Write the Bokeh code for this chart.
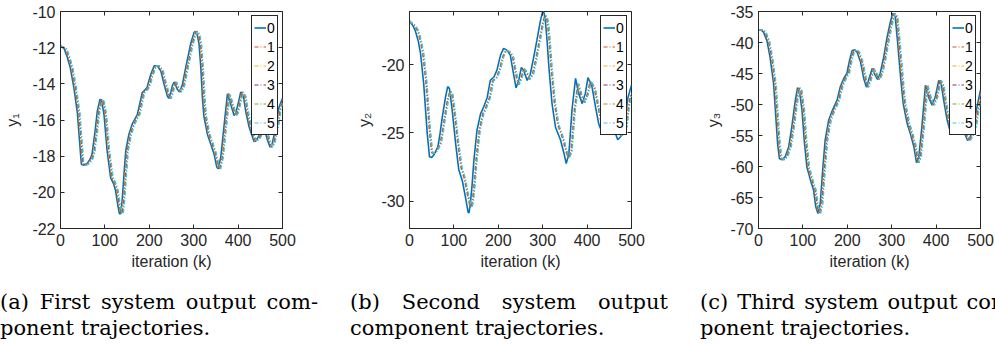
from bokeh.plotting import figure
from bokeh.models import Range1d, LinearAxis, FixedTicker, Legend, LegendItem, Div
from bokeh.layouts import row, column
from bokeh.embed import file_html
from bokeh.resources import INLINE

# ---------------- data ----------------
AGENTS = ["0", "1", "2", "3", "4", "5"]
COLORS = ["#0072BD", "#D95319", "#EDB120", "#7E2F8E", "#77AC30", "#4DBEEE"]

# delay (iterations) of agents 1..5 behind the plotted trajectory they follow
LAG_A = [2, 3, 4, 5, 6]
LAG_B = [-1.5, -0.75, 0, 0.75, 1.5]
LAG_C = [2, 3, 4, 5, 6]

X_TICKS = [0, 100, 200, 300, 400, 500]
Y1_TICKS = [-22, -20, -18, -16, -14, -12, -10]
Y2_TICKS = [-30, -25, -20]
Y3_TICKS = [-70, -65, -60, -55, -50, -45, -40, -35]
Y1_RANGE = (-22, -10)
Y2_RANGE = (-32, -16.1)
Y3_RANGE = (-70, -35)

# y1: reference (agent 0)
K1 = [0, 8, 15, 22, 30, 38, 43, 47, 52, 60, 66, 71, 77, 83, 89, 93, 98, 105, 113, 120,
      124, 129, 133, 136, 139, 143, 147, 154, 162, 173, 184, 195, 203, 211, 218, 226, 233,
      241, 244, 248, 252, 256, 263, 268, 274, 282, 293, 301, 305, 309, 312, 316, 320, 323,
      331, 338, 346, 352, 355, 361, 368, 376, 383, 391, 395, 402, 406, 412, 417, 425, 436,
      444, 451, 459, 466, 472, 477, 485, 492, 500]
Y1 = [-11.9, -12.05, -12.5, -13.1, -14.2, -15.6, -17.2, -18.45, -18.5, -18.4, -18.2, -17.9,
      -16.8, -15.5, -14.85, -15.0, -15.7, -17.7, -19.2, -19.55, -19.9, -20.7, -21.2, -21.1,
      -20.4, -19.0, -17.7, -16.8, -16.2, -15.7, -14.5, -14.2, -13.5, -13.0, -13.0, -13.3,
      -14.0, -14.7, -14.8, -14.5, -14.1, -13.9, -14.3, -14.45, -14.1, -13.1, -11.8, -11.15,
      -11.1, -11.4, -11.8, -13.1, -14.9, -15.8, -16.8, -17.3, -17.9, -18.6, -18.7, -18.05,
      -16.4, -14.55, -15.1, -15.75, -15.6, -14.9, -14.45, -14.7, -15.5, -16.4, -17.2, -17.0,
      -16.7, -16.5, -17.1, -17.5, -17.3, -16.4, -15.3, -14.8]

# y2: reference (agent 0)
K2 = [0, 7, 13, 20, 25, 32, 40, 45, 50, 55, 64, 69, 74, 81, 86, 90, 96, 104, 111, 119, 126,
      132, 134, 137, 141, 145, 152, 160, 167, 175, 182, 190, 197, 205, 212, 220, 227, 235,
      240, 246, 252, 257, 265, 272, 280, 287, 295, 300, 303, 306, 310, 314, 321, 329, 340,
      348, 353, 359, 366, 374, 381, 389, 396, 402, 411, 419, 426, 434, 445, 460, 469, 475,
      483, 492, 500]
Y2 = [-16.8, -17.1, -17.5, -18.3, -19.2, -21.4, -25.05, -26.75, -26.8, -26.6, -26.0, -25.0,
      -23.8, -22.4, -21.6, -21.75, -23.3, -25.8, -27.7, -28.5, -29.7, -30.8, -30.85, -30.2,
      -28.8, -27.0, -24.8, -23.6, -23.1, -22.4, -21.15, -20.9, -20.4, -19.3, -18.8, -18.95,
      -19.3, -20.8, -21.7, -21.15, -20.2, -20.4, -21.15, -20.7, -19.4, -18.2, -16.75, -16.1,
      -16.2, -16.75, -18.3, -20.2, -22.85, -24.6, -25.5, -26.5, -27.25, -26.5, -23.3, -21.0,
      -22.1, -22.85, -22.1, -20.95, -21.6, -23.1, -24.3, -25.0, -25.0, -24.7, -25.5, -25.3,
      -24.6, -22.4, -21.5]

# y2: followers' common trajectory (agents 1..5)
K2F = [0, 13, 19, 26, 31, 38, 46, 51, 56, 61, 70, 75, 80, 87, 92, 96, 102, 110, 117, 125,
       132, 138, 140, 143, 147, 151, 158, 166, 173, 181, 188, 196, 203, 211, 218, 226, 233,
       241, 246, 252, 258, 263, 271, 278, 286, 293, 301, 306, 309, 312, 316, 320, 327, 335,
       346, 354, 359, 365, 372, 380, 387, 395, 402, 408, 417, 425, 432, 440, 451, 466, 475,
       481, 489, 494, 500]
Y2F = [-16.8, -17.15, -17.5, -18.3, -19.2, -21.3, -24.9, -26.45, -26.5, -26.35, -25.8, -24.9,
       -23.8, -22.5, -21.95, -22.1, -23.5, -25.8, -27.5, -28.4, -29.6, -30.45, -30.45, -29.9,
       -28.6, -26.9, -24.8, -23.6, -23.1, -22.4, -21.2, -20.95, -20.45, -19.4, -18.95, -19.05,
       -19.4, -20.8, -21.45, -21.0, -20.3, -20.5, -21.05, -20.7, -19.5, -18.3, -16.9, -16.4,
       -16.5, -16.95, -18.4, -20.2, -22.7, -24.4, -25.4, -26.4, -26.85, -26.3, -23.4, -21.4,
       -22.2, -22.75, -22.1, -21.2, -21.7, -23.0, -24.1, -24.8, -24.85, -24.6, -25.25, -25.1,
       -24.5, -23.0, -22.1]

# y3: reference (agent 0)
K3 = [0, 6, 11, 19, 26, 34, 38, 43, 47, 53, 60, 68, 75, 83, 88, 92, 98, 103, 109, 117, 124,
      129, 134, 139, 144, 150, 158, 165, 177, 184, 192, 199, 205, 211, 216, 222, 230, 237,
      243, 250, 256, 263, 268, 274, 282, 289, 297, 302, 305, 308, 313, 320, 326, 335, 342,
      350, 356, 361, 368, 376, 383, 391, 398, 406, 412, 417, 425, 432, 440, 451, 459, 466,
      471, 477, 485, 492, 500]
Y3 = [-37.95, -38.0, -38.3, -39.7, -42.35, -46.65, -50.9, -56.3, -58.7, -58.9, -58.45, -56.85,
      -53.6, -49.3, -47.3, -47.7, -50.9, -55.8, -60.1, -62.2, -63.8, -66.5, -67.6, -66.0,
      -61.1, -55.8, -52.55, -51.2, -49.3, -47.2, -45.8, -45.0, -42.9, -41.3, -41.2, -41.55,
      -43.2, -45.8, -47.2, -45.6, -44.2, -45.3, -45.95, -45.0, -42.35, -39.4, -36.7, -35.3,
      -35.5, -35.9, -39.7, -45.6, -49.9, -53.1, -54.7, -56.85, -59.4, -58.45, -53.6, -46.9,
      -48.8, -50.1, -48.8, -46.1, -46.9, -49.3, -52.55, -54.4, -54.6, -53.9, -53.9, -55.0,
      -55.8, -55.2, -53.6, -50.4, -47.7]

CAPTIONS = [("(a) First system output com-", "ponent trajectories."),
            ("(b) Second system output", "component trajectories."),
            ("(c) Third system output com-", "ponent trajectories.")]

AXIS_COLOR = "#262626"
TICK_FONT = "Liberation Sans"


def make_panel(k0, y0, kf, yf, lags, yr, yticks, ylabel, left_border, right_border,
               ylabel_standoff):
    p = figure(frame_width=222, frame_height=217,
               min_border_left=left_border, min_border_right=right_border,
               min_border_top=11, min_border_bottom=52,
               x_range=Range1d(0, 500), y_range=Range1d(*yr),
               output_backend="svg", toolbar_location=None,
               background_fill_color="white", border_fill_color="white")
    p.xgrid.visible = False
    p.ygrid.visible = False
    p.outline_line_color = AXIS_COLOR
    p.outline_line_width = 1
    p.outline_line_alpha = 1

    p.xaxis.ticker = FixedTicker(ticks=X_TICKS)
    p.yaxis.ticker = FixedTicker(ticks=yticks)
    p.yaxis.major_label_overrides = {t: str(t) for t in yticks}
    p.xaxis.axis_label = "iteration (k)"
    p.yaxis.axis_label = ylabel
    for ax in (p.xaxis[0], p.yaxis[0]):
        ax.axis_line_color = AXIS_COLOR
        ax.major_tick_line_color = AXIS_COLOR
        ax.major_tick_in = 4
        ax.major_tick_out = 0
        ax.minor_tick_in = 0
        ax.minor_tick_out = 0
        ax.major_label_text_font = TICK_FONT
        ax.major_label_text_font_size = "16px"
        ax.major_label_text_color = AXIS_COLOR
        ax.axis_label_text_font = TICK_FONT
        ax.axis_label_text_font_size = "16px"
        ax.axis_label_text_font_style = "normal"
        ax.axis_label_text_color = AXIS_COLOR
        ax.major_label_standoff = 5
    p.xaxis.axis_label_standoff = 4
    p.yaxis.axis_label_standoff = ylabel_standoff

    # mirrored tick marks on top and right (box style)
    for side, tk in (("above", X_TICKS), ("right", yticks)):
        ax = LinearAxis(ticker=FixedTicker(ticks=tk), major_label_text_font_size="0px",
                        major_label_text_color=None, major_label_standoff=0,
                        major_tick_in=4, major_tick_out=0,
                        minor_tick_in=0, minor_tick_out=0, axis_line_color=None,
                        major_tick_line_color=AXIS_COLOR)
        p.add_layout(ax, side)

    rs = [p.line(k0, y0, line_color=COLORS[0], line_width=1.6)]
    for i, lag in enumerate(lags):
        xs = [kk + lag if kk > 0 else 0 for kk in kf]
        rs.append(p.line(xs, yf, line_color=COLORS[i + 1], line_width=1.2,
                         line_dash="4 2 1 2"))

    items = [LegendItem(label=AGENTS[i], renderers=[rs[i]]) for i in range(6)]
    leg = Legend(items=items, location="top_right", margin=4, padding=2, spacing=0,
                 label_standoff=1, glyph_width=12, glyph_height=19, label_height=19,
                 label_width=8,
                 label_text_font=TICK_FONT, label_text_font_size="14px",
                 label_text_color="black",
                 border_line_color=AXIS_COLOR, border_line_width=1, border_line_alpha=1,
                 background_fill_color="white", background_fill_alpha=1)
    p.add_layout(leg)
    return p


def caption(lines, width):
    l1, l2 = lines
    html = ("<div style=\"width:318px;font-family:'DejaVu Serif';font-size:21px;"
            "line-height:26px;color:#000;padding-top:9px;white-space:nowrap;\">"
            "<div style=\"text-align:justify;text-align-last:justify;white-space:normal;\">"
            + l1 + "</div><div>" + l2 + "</div></div>")
    return Div(text=html, width=width, height=62, margin=0,
               styles={"overflow": "hidden"})


pa = make_panel(K1, Y1, K1, Y1, LAG_A, Y1_RANGE, Y1_TICKS, "y\u2081", 60, 70, 8)
pb = make_panel(K2, Y2, K2F, Y2F, LAG_B, Y2_RANGE, Y2_TICKS, "y\u2082", 57, 70, 5)
pc = make_panel(K3, Y3, K3, Y3, LAG_C, Y3_RANGE, Y3_TICKS, "y\u2083", 57, 15, 5)

caps = row(caption(CAPTIONS[0], 350), caption(CAPTIONS[1], 350),
           caption(CAPTIONS[2], 295), spacing=0)
layout = column(row(pa, pb, pc, spacing=0), caps, spacing=0)
open("out.html", "w").write(file_html(layout, INLINE))
